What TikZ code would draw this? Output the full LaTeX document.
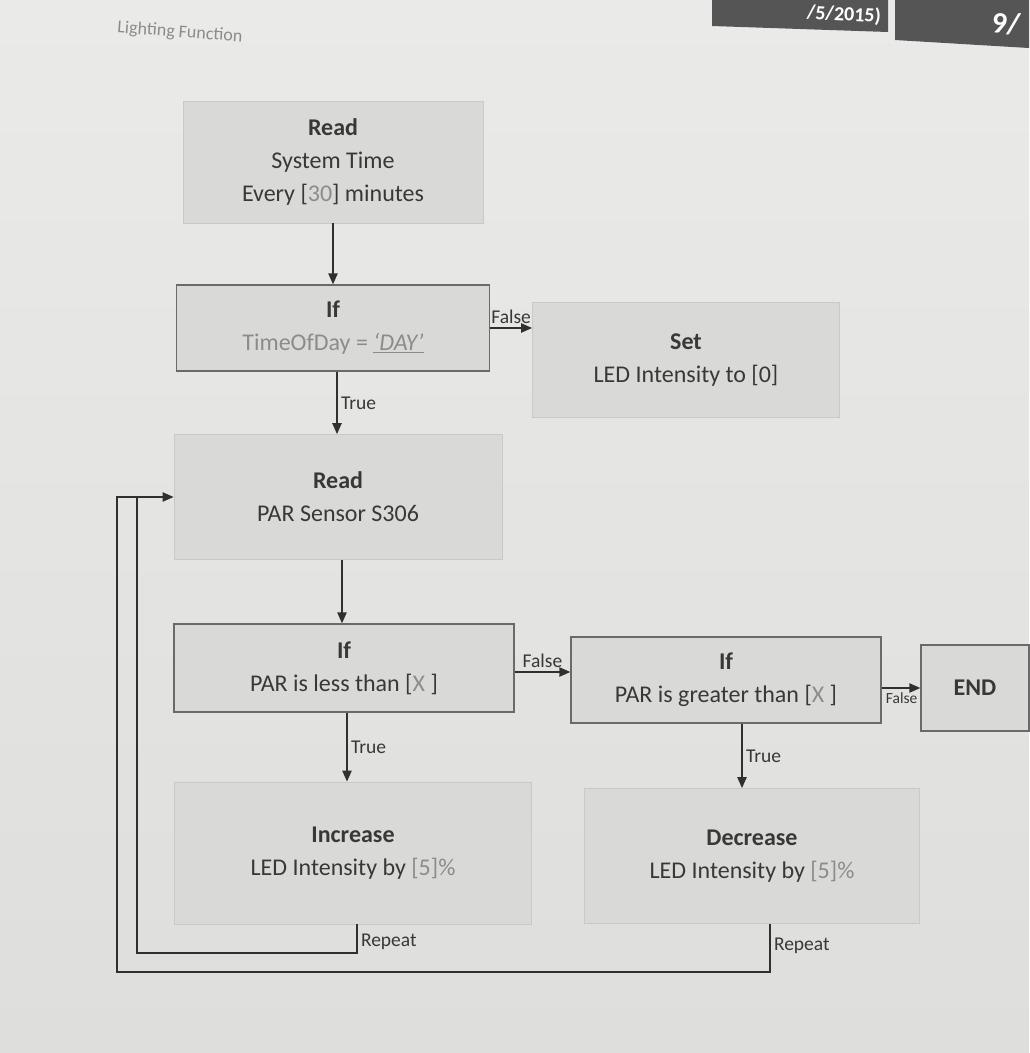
\documentclass[tikz,border=0pt]{standalone}
\usepackage{fontspec}
\setmainfont{Carlito}
\usetikzlibrary{arrows.meta,calc}
\definecolor{bgtop}{HTML}{EAEAE8}
\definecolor{bgbot}{HTML}{DEDEDC}
\definecolor{boxfill}{HTML}{D9D9D7}
\definecolor{boxedge}{HTML}{C9C9C7}
\definecolor{condedge}{HTML}{6A6A6A}
\definecolor{txt}{HTML}{383838}
\definecolor{val}{HTML}{8C8C8C}
\definecolor{linec}{HTML}{303030}
\definecolor{band}{HTML}{555555}
\newcommand{\boxfont}{\fontsize{24}{33}\selectfont}
\tikzset{
  proc/.style={fill=boxfill, draw=boxedge, line width=0.6pt, align=center,
    inner sep=0pt, font=\boxfont, text=txt},
  cond/.style={proc, draw=condedge, line width=1.1pt},
  lbl/.style={font=\fontsize{19.5}{22}\selectfont, text=txt, inner sep=3pt},
  smalllbl/.style={font=\fontsize{15.5}{17}\selectfont, text=txt, inner sep=1pt},
  flow/.style={draw=linec, line width=2pt, -{Triangle[length=11pt,width=9pt]}},
  loopline/.style={draw=linec, line width=2pt},
}
\begin{document}
\begin{tikzpicture}[x=1pt,y=-1pt]
\useasboundingbox (0,0) rectangle (1029,1053);
\shade[top color=bgtop, bottom color=bgbot] (0,0) rectangle (1029,1053);
% header band
\fill[band] (712,0) -- (888,0) -- (888,32) -- (712,26) -- cycle;
\fill[band] (895,0) -- (1029,0) -- (1029,48) -- (895,40) -- cycle;
\node[text=white, font=\fontsize{20}{20}\selectfont\bfseries, rotate=-3, anchor=east, inner sep=1pt] (date) at (882,17) {/5/2015)};
\node[text=white, font=\fontsize{30}{30}\selectfont\bfseries, rotate=-5] (page) at (1006,24) {9/};
\node[text=val, font=\fontsize{18}{18}\selectfont, rotate=-4, anchor=west] (title) at (114,28) {Lighting Function};
% boxes
\node[proc, minimum width=300pt, minimum height=122pt] (rt) at (333,162)
  {\textbf{Read}\\System Time\\Every [{\color{val}30}] minutes};
\node[cond, minimum width=313pt, minimum height=86pt] (ifday) at (333,328)
  {\textbf{If}\\{\color{val}TimeOfDay = \underline{\textit{‘DAY’}}}};
\node[proc, minimum width=307pt, minimum height=115pt] (set) at (686,360)
  {\textbf{Set}\\LED Intensity to [0]};
\node[proc, minimum width=328pt, minimum height=125pt] (rp) at (338,497)
  {\textbf{Read}\\PAR Sensor S306};
\node[cond, minimum width=340pt, minimum height=88pt] (less) at (344,668)
  {\textbf{If}\\PAR is less than [{\color{val}X} ]};
\node[cond, minimum width=310pt, minimum height=86pt] (greater) at (726,680)
  {\textbf{If}\\PAR is greater than [{\color{val}X} ]};
\node[cond, minimum width=108pt, minimum height=86pt] (end) at (975,688)
  {\textbf{END}};
\node[proc, minimum width=357pt, minimum height=142pt] (inc) at (353,853)
  {\textbf{Increase}\\LED Intensity by {\color{val}[5]\%}};
\node[proc, minimum width=335pt, minimum height=135pt] (dec) at (752,856)
  {\textbf{Decrease}\\LED Intensity by {\color{val}[5]\%}};
% connectors
\draw[flow] (rt.south) -- (rt.south |- ifday.north);
\draw[flow] ($(ifday.south)+(4,0)$) coordinate (a1) -- (a1 |- rp.north)
  node[lbl, midway, right] (t1) {True};
\draw[flow] (ifday.east) -- (ifday.east -| set.west)
  node[lbl, midway, above] (f1) {False};
\draw[flow] ($(rp.south)+(4,0)$) coordinate (a2) -- (a2 |- less.north);
\draw[flow] ($(less.east)+(0,4)$) coordinate (a3) -- (a3 -| greater.west)
  node[lbl, midway, above] (f2) {False};
\draw[flow] ($(less.south)+(3,0)$) coordinate (a4) -- (a4 |- inc.north)
  node[lbl, midway, right] (t2) {True};
\draw[flow] (greater.east |- end.west) -- (end.west)
  node[smalllbl, at end, anchor=north east, yshift=-3pt, xshift=-1pt] (f3) {False};
\draw[flow] ($(greater.south)+(16,0)$) coordinate (a5) -- (a5 |- dec.north)
  node[lbl, midway, right] (t3) {True};
% repeat loops
\coordinate (l1) at (137,953);
\coordinate (l2) at (117,972);
\draw[loopline] ($(inc.south)+(4,0)$) coordinate (r1) -- (r1 |- l1)
  node[lbl, pos=0.6, right] (rep1) {Repeat}
  -- (l1) -- (l1 |- rp.west);
\draw[flow] ($(dec.south)+(18,0)$) coordinate (r2) -- (r2 |- l2)
  node[lbl, pos=0.45, right] (rep2) {Repeat}
  -- (l2) -- (l2 |- rp.west) -- (rp.west);
\end{tikzpicture}
\end{document}
